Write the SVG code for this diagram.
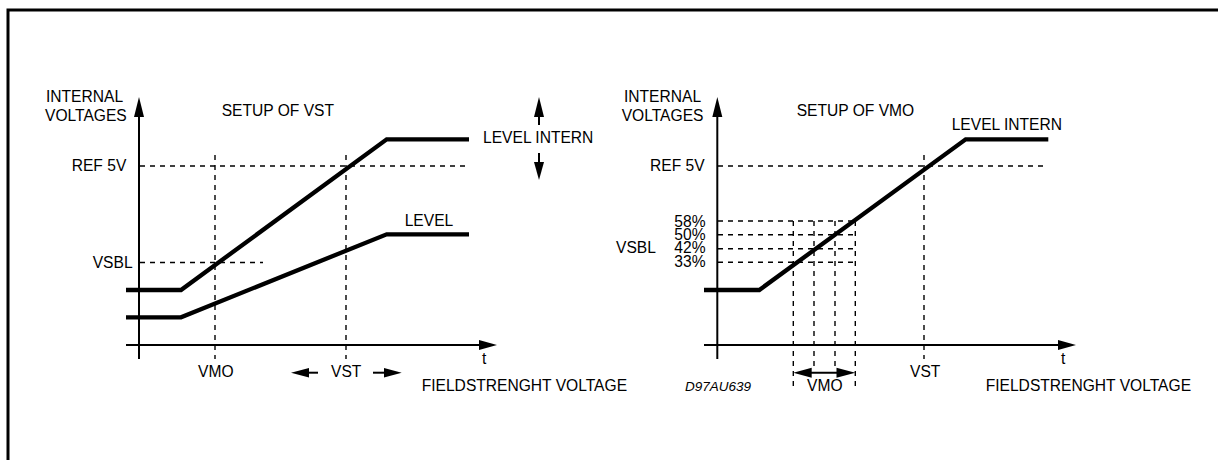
<svg xmlns="http://www.w3.org/2000/svg" width="1218" height="460" viewBox="0 0 1218 460">
<style>
text{font-family:"Liberation Sans",Arial,sans-serif;font-size:15.6px;fill:#000}
.it{font-style:italic;font-size:13.5px}
.axis{stroke:#000;stroke-width:2;fill:none}
.thick{stroke:#000;stroke-width:4.3;fill:none;stroke-linejoin:miter}
.dash{stroke:#000;stroke-width:1.4;fill:none;stroke-dasharray:5,5}
.head{fill:#000;stroke:none}
</style>
<rect width="1218" height="460" fill="#fff"/>
<path d="M8,460 V10 H1218" fill="none" stroke="#000" stroke-width="3"/>

<g id="chart-vst">
  <g id="axes-left">
    <line class="axis" x1="139" y1="112" x2="139" y2="359"/>
    <polygon class="head" points="139,97 134,117 144,117"/>
    <line class="axis" x1="126" y1="345" x2="482" y2="345"/>
    <polygon class="head" points="497,345 479,340 479,350"/>
  </g>
  <g id="dashes-left">
    <line class="dash" x1="140" y1="166" x2="469" y2="166"/>
    <line class="dash" x1="140" y1="262.5" x2="263" y2="262.5"/>
    <line class="dash" x1="215" y1="155" x2="215" y2="359"/>
    <line class="dash" x1="346" y1="155" x2="346" y2="359"/>
  </g>
  <g id="curves-left">
    <polyline class="thick" points="126,290 181,290 386.7,139.3 469,139.3"/>
    <polyline class="thick" points="126,317.3 181,317.3 386.7,234.3 469,234.3"/>
  </g>
  <g id="arrows-left">
    <line class="axis" x1="539" y1="112" x2="539" y2="125"/>
    <polygon class="head" points="539,97 534,117 544,117"/>
    <line class="axis" x1="539" y1="153" x2="539" y2="166"/>
    <polygon class="head" points="539,180 534,162 544,162"/>
    <line class="axis" x1="300" y1="372.7" x2="318" y2="372.7"/>
    <polygon class="head" points="291,372.7 309,367.9 309,377.5"/>
    <line class="axis" x1="373" y1="372.7" x2="392" y2="372.7"/>
    <polygon class="head" points="401.7,372.7 384,367.9 384,377.5"/>
  </g>
  <g id="labels-left">
    <text x="46" y="101.7">INTERNAL</text>
    <text x="45" y="120.5">VOLTAGES</text>
    <text x="221.7" y="116">SETUP OF VST</text>
    <text x="71.7" y="170.7">REF 5V</text>
    <text x="92.7" y="267.7">VSBL</text>
    <text x="483" y="143">LEVEL INTERN</text>
    <text x="404.7" y="226">LEVEL</text>
    <text x="482" y="363.5">t</text>
    <text x="198" y="376.7">VMO</text>
    <text x="331" y="376.7">VST</text>
    <text x="421.7" y="390.7">FIELDSTRENGHT VOLTAGE</text>
  </g>
</g>

<g id="chart-vmo">
  <g id="axes-right">
    <line class="axis" x1="717.3" y1="112" x2="717.3" y2="359"/>
    <polygon class="head" points="717.3,97 712.3,117 722.3,117"/>
    <line class="axis" x1="704" y1="345" x2="1061" y2="345"/>
    <polygon class="head" points="1076,345 1058,340 1058,350"/>
  </g>
  <g id="dashes-right">
    <line class="dash" x1="718" y1="166" x2="1048" y2="166"/>
    <line class="dash" x1="924" y1="155" x2="924" y2="359"/>
    <line class="dash" x1="718" y1="221" x2="855.3" y2="221"/>
    <line class="dash" x1="718" y1="234.7" x2="855.3" y2="234.7"/>
    <line class="dash" x1="718" y1="248.7" x2="855.3" y2="248.7"/>
    <line class="dash" x1="718" y1="262.3" x2="855.3" y2="262.3"/>
    <line class="dash" x1="793.3" y1="221" x2="793.3" y2="386"/>
    <line class="dash" x1="814" y1="221" x2="814" y2="366"/>
    <line class="dash" x1="835" y1="221" x2="835" y2="366"/>
    <line class="dash" x1="855.3" y1="221" x2="855.3" y2="387"/>
  </g>
  <g id="curves-right">
    <polyline class="thick" points="704,290 759.3,290 965.7,139.3 1048.3,139.3"/>
  </g>
  <g id="arrows-right">
    <line class="axis" x1="805" y1="372.7" x2="843" y2="372.7"/>
    <polygon class="head" points="793.3,372.7 811.7,367.7 811.7,377.7"/>
    <polygon class="head" points="855.3,372.7 836.5,367.7 836.5,377.7"/>
  </g>
  <g id="labels-right">
    <text x="624" y="101.7">INTERNAL</text>
    <text x="621.7" y="120.5">VOLTAGES</text>
    <text x="796.7" y="116">SETUP OF VMO</text>
    <text x="650" y="170.7">REF 5V</text>
    <text x="951.7" y="129.7">LEVEL INTERN</text>
    <text x="674.3" y="226.7">58%</text>
    <text x="674.3" y="240">50%</text>
    <text x="674.3" y="253.3">42%</text>
    <text x="674.3" y="266.7">33%</text>
    <text x="616" y="253.3">VSBL</text>
    <text x="1061" y="363.5">t</text>
    <text x="910" y="376.7">VST</text>
    <text x="807" y="390.7">VMO</text>
    <text class="it" x="685" y="390.7">D97AU639</text>
    <text x="985.7" y="390.7">FIELDSTRENGHT VOLTAGE</text>
  </g>
</g>
</svg>
